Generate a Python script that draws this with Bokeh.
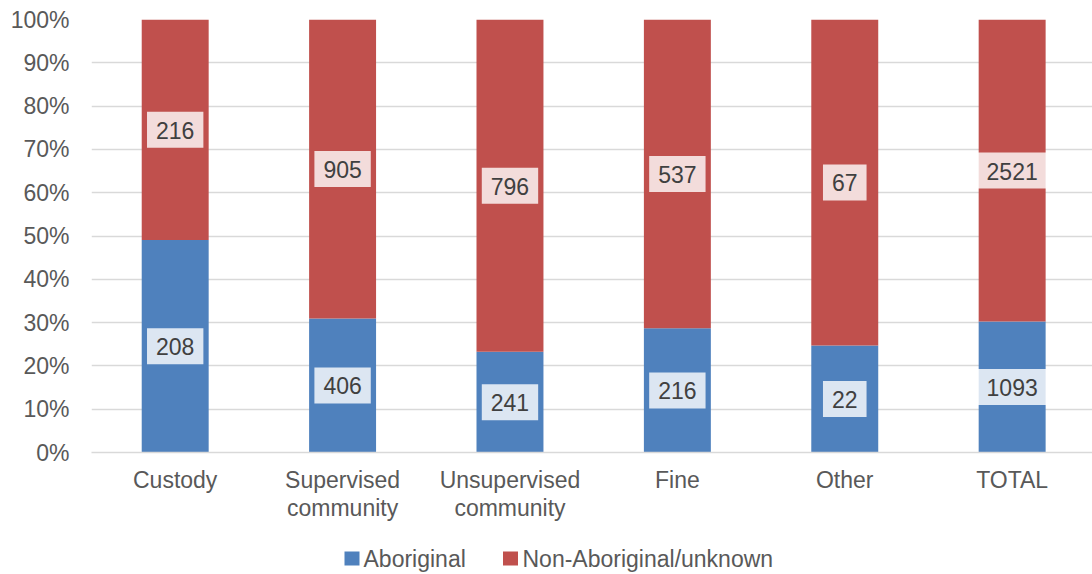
from bokeh.plotting import figure
from bokeh.layouts import column
from bokeh.models import ColumnDataSource, FixedTicker, NumeralTickFormatter, Range1d
from bokeh.core.properties import value
from bokeh.embed import file_html
from bokeh.resources import INLINE

categories = ["Custody", "Supervised\ncommunity", "Unsupervised\ncommunity", "Fine", "Other", "TOTAL"]
aboriginal = [208, 406, 241, 216, 22, 1093]
non_aboriginal = [216, 905, 796, 537, 67, 2521]
series_names = ["Aboriginal", "Non-Aboriginal/unknown"]
colors = ["#4F81BD", "#C0504D"]

FONT = "Liberation Sans"
FS = "23px"
xs = [i + 0.5 for i in range(len(categories))]
totals = [a + b for a, b in zip(aboriginal, non_aboriginal)]
ab_frac = [a / t for a, t in zip(aboriginal, totals)]

src = ColumnDataSource(dict(
    x=xs,
    ab_top=ab_frac,
    zero=[0] * len(xs),
    one=[1] * len(xs),
    ab_mid=[f / 2 for f in ab_frac],
    na_mid=[(f + 1) / 2 for f in ab_frac],
    ab_lbl=[str(v) for v in aboriginal],
    na_lbl=[str(v) for v in non_aboriginal],
))

p = figure(width=1092, height=534, output_backend="svg", toolbar_location=None,
           x_range=Range1d(0, 5.98), y_range=Range1d(0, 1),
           min_border_left=91, min_border_right=0, min_border_top=19, min_border_bottom=82)
p.outline_line_color = None
p.background_fill_color = "white"

p.xgrid.grid_line_color = None
p.ygrid.grid_line_color = "#D9D9D9"
p.ygrid.grid_line_width = 1.5

r1 = p.vbar(x="x", width=0.4, bottom="zero", top="ab_top", source=src,
            fill_color=colors[0], line_color=None)
r2 = p.vbar(x="x", width=0.4, bottom="ab_top", top="one", source=src,
            fill_color=colors[1], line_color=None)

for col_y, col_t in [("ab_mid", "ab_lbl"), ("na_mid", "na_lbl")]:
    p.text(x="x", y=col_y, text=col_t, source=src,
           text_font=value(FONT), text_font_size=FS, text_color="#404040",
           text_align="center", text_baseline="middle",
           background_fill_color="white", background_fill_alpha=0.8,
           padding=dict(left=9, right=9, top=10, bottom=9))

p.yaxis.ticker = FixedTicker(ticks=[i / 10 for i in range(11)])
p.yaxis.formatter = NumeralTickFormatter(format="0%")
p.yaxis.axis_line_color = None
p.yaxis.major_tick_line_color = None
p.yaxis.minor_tick_line_color = None
p.yaxis.major_label_text_font = FONT
p.yaxis.major_label_text_font_size = FS
p.yaxis.major_label_text_color = "#595959"
p.yaxis.major_label_standoff = 16

p.xaxis.ticker = FixedTicker(ticks=xs)
p.xaxis.major_label_overrides = {x: c for x, c in zip(xs, categories)}
p.xaxis.axis_line_color = "#D9D9D9"
p.xaxis.axis_line_width = 1.5
p.xaxis.major_tick_line_color = None
p.xaxis.minor_tick_line_color = None
p.xaxis.major_label_text_font = FONT
p.xaxis.major_label_text_font_size = FS
p.xaxis.major_label_text_color = "#595959"
p.xaxis.major_label_standoff = 8
p.xaxis.major_label_text_line_height = 1.08

# legend strip below the chart (layout in screen pixels; frame aligned with chart frame at x=91)
leg_sq_x = [351.5, 510]
leg_txt_x = [363, 522]
lg = figure(width=1092, height=40, output_backend="svg", toolbar_location=None,
            x_range=Range1d(91, 1092), y_range=Range1d(0, 40),
            min_border=0, min_border_left=91, x_axis_type=None, y_axis_type=None)
lg.outline_line_color = None
lg.xgrid.visible = False
lg.ygrid.visible = False
leg_src = ColumnDataSource(dict(sx=leg_sq_x, tx=leg_txt_x, y=[16, 16],
                                color=colors, label=series_names))
lg.rect(x="sx", y="y", width=15, height=14, source=leg_src,
        fill_color="color", line_color=None)
lg.text(x="tx", y="y", text="label", source=leg_src,
        text_font=value(FONT), text_font_size=FS, text_color="#595959",
        text_align="left", text_baseline="middle")

open("out.html", "w").write(file_html(column(p, lg, spacing=0), INLINE))
